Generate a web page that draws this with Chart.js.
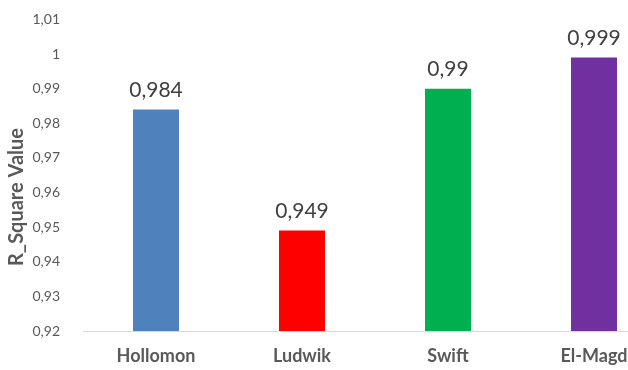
<!DOCTYPE html>
<html>
<head>
<meta charset="utf-8">
<script src="https://cdn.jsdelivr.net/npm/chart.js@4"></script>
<style>
  html, body { margin: 0; padding: 0; background: #fff; overflow: hidden; }
  #wrap { width: 672px; height: 374px; margin-top: -4px; }
</style>
</head>
<body>
<div id="wrap"><canvas id="chartRSquare"></canvas></div>
<script>
// --- data ---
const models = ['Hollomon', 'Ludwik', 'Swift', 'El-Magd'];
const rSquare = [0.984, 0.949, 0.99, 0.999];
const barColors = ['#4F81BD', '#FF0000', '#00B050', '#7030A0'];
const yMin = 0.92, yMax = 1.01, yStep = 0.01;
const yTitle = 'R_Square Value';

const FONT = 'Lato, "Open Sans", sans-serif';

// decimal comma like the original
function comma(v) {
    return String(Number(v.toFixed(3))).replace('.', ',');
}

// value above each bar + axis title centred on the whole chart height
const valueLabels = {
    id: 'valueLabels',
    afterDatasetsDraw(chart) {
        const ctx = chart.ctx;
        const meta = chart.getDatasetMeta(0);
        ctx.save();
        ctx.font = '21px ' + FONT;
        ctx.fillStyle = '#404040';
        ctx.textAlign = 'center';
        ctx.textBaseline = 'bottom';
        meta.data.forEach(function (bar, i) {
            ctx.fillText(comma(rSquare[i]), bar.x, bar.y - 9);
        });
        ctx.restore();

        ctx.save();
        ctx.translate(17, 201);
        ctx.rotate(-Math.PI / 2);
        ctx.font = 'bold 20px ' + FONT;
        ctx.fillStyle = '#595959';
        ctx.textAlign = 'center';
        ctx.textBaseline = 'middle';
        ctx.fillText(yTitle, 0, 0);
        ctx.restore();
    }
};

new Chart(document.getElementById('chartRSquare'), {
    type: 'bar',
    data: {
        labels: models,
        datasets: [{
            label: 'R_Square',
            data: rSquare,
            backgroundColor: barColors,
            borderWidth: 0,
            categoryPercentage: 1,
            barPercentage: 0.315
        }]
    },
    options: {
        responsive: true,
        maintainAspectRatio: false,
        animation: false,
        layout: { padding: { top: 13, right: 5, bottom: 0, left: 0 } },
        plugins: { legend: { display: false }, tooltip: { enabled: false } },
        scales: {
            x: {
                afterFit: function (s) { s.height = 39; },
                grid: { display: true, color: 'transparent', drawTicks: false },
                border: { display: true, color: '#D9D9D9', width: 1 },
                ticks: {
                    color: '#595959',
                    padding: 14,
                    font: { family: FONT, size: 18, weight: 'bold' }
                }
            },
            y: {
                min: yMin,
                max: yMax,
                afterFit: function (s) { s.width = 83; },
                grid: { display: false },
                border: { display: false },
                ticks: {
                    stepSize: yStep,
                    color: '#595959',
                    padding: 15,
                    font: { family: FONT, size: 14 },
                    callback: function (v) { return comma(Number(v.toFixed(2))); }
                }
            }
        }
    },
    plugins: [valueLabels]
});
</script>
</body>
</html>
